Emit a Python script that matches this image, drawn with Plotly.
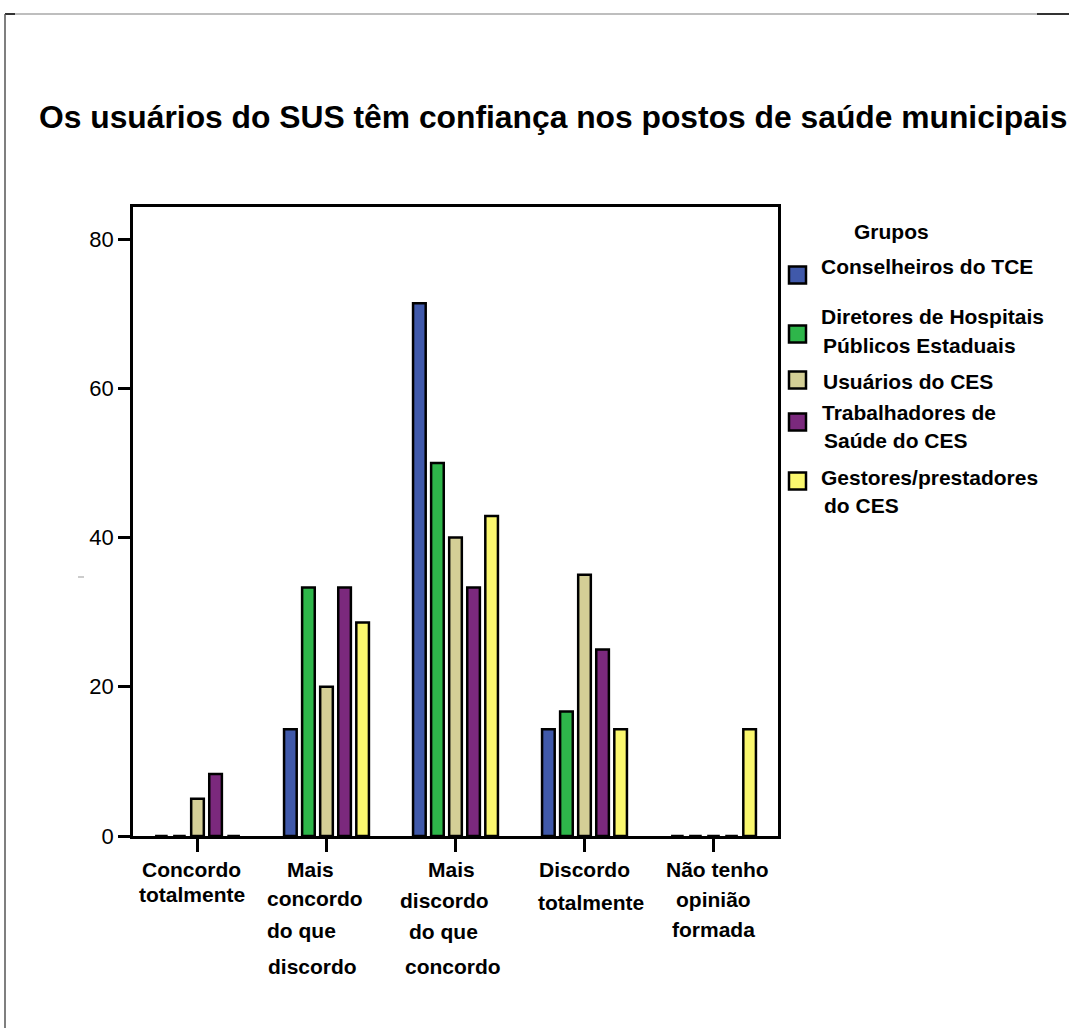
import plotly.graph_objects as go

# --- data -------------------------------------------------------------
categories = [
    "Concordo totalmente",
    "Mais concordo do que discordo",
    "Mais discordo do que concordo",
    "Discordo totalmente",
    "Não tenho opinião formada",
]
category_lines = [
    ["Concordo", "totalmente"],
    ["Mais", "concordo", "do que", "discordo"],
    ["Mais", "discordo", "do que", "concordo"],
    ["Discordo", "totalmente"],
    ["Não tenho", "opinião", "formada"],
]
groups = [
    "Conselheiros do TCE",
    "Diretores de Hospitais Públicos Estaduais",
    "Usuários do CES",
    "Trabalhadores de Saúde do CES",
    "Gestores/prestadores do CES",
]
group_lines = [
    ["Conselheiros do TCE"],
    ["Diretores de Hospitais", "Públicos Estaduais"],
    ["Usuários do CES"],
    ["Trabalhadores de", "Saúde do CES"],
    ["Gestores/prestadores", "do CES"],
]
conselheiros_tce = [0, 14.3, 71.4, 14.3, 0]
diretores_hospitais = [0, 33.3, 50.0, 16.7, 0]
usuarios_ces = [5.0, 20.0, 40.0, 35.0, 0]
trabalhadores_ces = [8.3, 33.3, 33.3, 25.0, 0]
gestores_ces = [0, 28.6, 42.9, 14.3, 14.3]
series = [conselheiros_tce, diretores_hospitais, usuarios_ces,
          trabalhadores_ces, gestores_ces]
y_ticks = [0, 20, 40, 60, 80]

title_text = "Os usuários do SUS têm confiança nos postos de saúde municipais"
legend_title = "Grupos"

# --- styling ----------------------------------------------------------
colors = ["#4059AA", "#2EB64A", "#D4CF96", "#7B297D", "#FAF76E"]
FONT = "Liberation Sans, Arial, sans-serif"
W, H = 1069, 1028
L, R, T, B = 133, 778, 207, 836  # plot area in pixels


def px_x(x):
    return (x - L) / (R - L)


def px_y(y):
    return (B - y) / (B - T)


fig = go.Figure()
for name, vals, col in zip(groups, series, colors):
    fig.add_trace(go.Bar(
        x=categories, y=vals, name=name,
        marker=dict(color=col, line=dict(color="black", width=2.5)),
        showlegend=False,
    ))

annotations = []
shapes = []

# title spanning the full page width
annotations.append(dict(
    text=f"<b>{title_text}</b>", xref="paper", yref="paper",
    x=px_x(37), y=px_y(117), xanchor="left", yanchor="middle",
    showarrow=False, font=dict(family=FONT, size=31.8, color="black"),
))

# category labels below the axis, one annotation per line
label_rows_y = [
    [870, 894],
    [870, 898, 930, 967],
    [870, 900, 932, 967],
    [870, 902],
    [870, 899, 929],
]
label_shift_x = [
    [-6, -6],
    [-16, -12, -25, -14],
    [-4, -11, -12, -3],
    [0, 6],
    [4, 0, 0],
]
for cat, lines, ys, dxs in zip(categories, category_lines, label_rows_y, label_shift_x):
    for line, y, dx in zip(lines, ys, dxs):
        annotations.append(dict(
            text=f"<b>{line}</b>", xref="x", yref="paper", x=cat, y=px_y(y),
            xshift=dx, xanchor="center", yanchor="middle", showarrow=False,
            font=dict(family=FONT, size=21, color="black"),
        ))

# legend block
annotations.append(dict(
    text=f"<b>{legend_title}</b>", xref="paper", yref="paper",
    x=px_x(891), y=px_y(232), xanchor="center", yanchor="middle",
    showarrow=False, font=dict(family=FONT, size=21, color="black"),
))
legend_square_y = [275, 334, 380, 422, 481]
legend_text_y = [[266], [316, 345], [381], [412, 440], [477, 505]]
legend_text_x = [[819], [819, 821], [821], [820, 822], [819, 822]]
for col, lines, sy, tys, txs in zip(colors, group_lines, legend_square_y,
                                     legend_text_y, legend_text_x):
    shapes.append(dict(
        type="rect", xref="paper", yref="paper",
        x0=px_x(789), x1=px_x(806), y0=px_y(sy - 8.5), y1=px_y(sy + 8.5),
        fillcolor=col, line=dict(color="black", width=2.5),
    ))
    for line, ty, tx in zip(lines, tys, txs):
        annotations.append(dict(
            text=f"<b>{line}</b>", xref="paper", yref="paper",
            x=px_x(tx), y=px_y(ty), xanchor="left", yanchor="middle",
            showarrow=False, font=dict(family=FONT, size=21, color="black"),
        ))

# outer frame lines of the figure
shapes += [
    dict(type="line", xref="paper", yref="paper", x0=px_x(5), x1=px_x(1069),
         y0=px_y(14), y1=px_y(14), line=dict(color="#A8A8A8", width=1.5)),
    dict(type="line", xref="paper", yref="paper", x0=px_x(5), x1=px_x(15),
         y0=px_y(14), y1=px_y(14), line=dict(color="#333333", width=2)),
    dict(type="line", xref="paper", yref="paper", x0=px_x(1037), x1=px_x(1069),
         y0=px_y(14), y1=px_y(14), line=dict(color="#333333", width=2)),
    dict(type="line", xref="paper", yref="paper", x0=px_x(5), x1=px_x(5),
         y0=px_y(14), y1=px_y(1028), line=dict(color="#555555", width=1.5)),
    dict(type="line", xref="paper", yref="paper", x0=px_x(78), x1=px_x(84),
         y0=px_y(577), y1=px_y(577), line=dict(color="#999999", width=1)),
]

fig.update_layout(
    width=W, height=H,
    margin=dict(l=L, r=W - R, t=T, b=H - B, pad=0),
    paper_bgcolor="white", plot_bgcolor="white",
    barmode="group", bargap=0.30, bargroupgap=0.30,
    showlegend=False,
    annotations=annotations, shapes=shapes,
    font=dict(family=FONT, color="black"),
)
fig.update_xaxes(
    type="category", range=[-0.5, 4.5],
    showline=True, linecolor="black", linewidth=2.5, mirror=True,
    ticks="outside", ticklen=13, tickwidth=2.5, tickcolor="black",
    showticklabels=False, showgrid=False, zeroline=False,
)
fig.update_yaxes(
    range=[0, 84.3], tickvals=y_ticks,
    showline=True, linecolor="black", linewidth=2.5, mirror=True,
    ticks="outside", ticklen=12, tickwidth=2.5, tickcolor="black",
    tickfont=dict(family=FONT, size=22, color="black"),
    showgrid=False, zeroline=False,
)

fig.write_html("out.html")
